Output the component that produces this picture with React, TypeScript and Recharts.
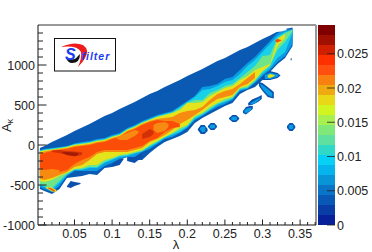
import { AreaChart, Area, BarChart, Bar, XAxis, YAxis, ReferenceLine } from 'recharts'

const lambda = [0.004, 0.01, 0.02, 0.03, 0.04, 0.05, 0.06, 0.07, 0.08, 0.09, 0.1, 0.11, 0.12, 0.13, 0.14, 0.15, 0.16, 0.17, 0.18, 0.19, 0.2, 0.21, 0.22, 0.23, 0.24, 0.25, 0.26, 0.27, 0.28, 0.29, 0.3, 0.31, 0.32, 0.33, 0.34]

// nested contour bands, upper and lower edge of each in A_k
const blueHigh = [-38, -13, 38, 81, 125, 175, 219, 263, 313, 363, 400, 450, 494, 538, 588, 638, 675, 725, 769, 813, 863, 906, 950, 1000, 1050, 1088, 1138, 1188, 1225, 1275, 1325, 1369, 1419, 1450, 1469]
const blueLow = [-550, -575, -613, -550, -413, -400, -388, -363, -375, -288, -275, -188, -150, -188, -188, -100, -25, 38, 75, 113, 163, 275, 338, 388, 438, 488, 525, 638, 688, 725, 813, 913, 1013, 1088, 1238]
const skyHigh = [-63, -50, -38, -25, -13, 19, 38, 50, 75, 88, 125, 150, 213, 250, 300, 338, 375, 400, 425, 488, 550, 613, 725, 738, 763, 825, 850, 938, 1025, 1100, 1200, 1300, 1400, 1438, 1450]
const skyLow = [-525, -550, -588, -513, -388, -325, -325, -325, -325, -263, -225, -175, -150, -150, -88, -50, 13, 75, 100, 150, 213, 313, 363, 425, 475, 513, 563, 675, 700, 775, 863, 938, 1038, 1113, 1263]
const cyanHigh = [-69, -56, -44, -31, -19, 13, 25, 38, 63, 75, 113, 138, 200, 238, 288, 325, 363, 388, 413, 475, 538, 600, 688, 700, 738, 788, 813, 888, 988, 1063, 1163, 1263, 1363, 1413, 1444]
const cyanLow = [-500, -525, -563, -475, -375, -313, -313, -288, -288, -225, -188, -150, -138, -106, -81, -25, 25, 88, 125, 163, 225, 325, 375, 438, 500, 538, 575, 688, 713, 788, 888, 963, 1088, 1163, 1400]
const greenHigh = [-75, -63, -50, -38, -23, 6, 19, 31, 56, 69, 106, 131, 194, 231, 281, 319, 356, 381, 406, 456, 531, 563, 563, 650, 688, 738, 763, 838, 913, 988, 1113, 1125, 1338, 1400, 1440]
const greenLow = [-488, -513, -538, -450, -363, -306, -300, -275, -275, -213, -175, -138, -125, -100, -75, -13, 38, 100, 138, 188, 238, 344, 388, 450, 513, 550, 588, 700, 719, 800, 913, 988, 1188, 1288, 1425]
const yellowHigh = [-81, -69, -56, -44, -25, 0, 13, 25, 50, 63, 100, 125, 188, 225, 275, 313, 350, 375, 400, 438, 525, 525, 538, 613, 663, 713, 738, 813, 863, 938, 975, 1013, 1325, 1388]
const yellowLow = [-450, -463, -438, -388, -350, -300, -288, -250, -250, -188, -163, -125, -113, -88, -63, 0, 50, 100, 150, 213, 250, 363, 400, 475, 525, 575, 600, 713, 738, 813, 925, 1000, 1238, 1338]
const orangeHigh = [-94, -81, -63, -50, -38, -13, 0, 13, 38, 50, 88, 113, 175, 213, 263, 300, 325, 338, 350, 400, 425, 438, 475, 563, 638, 675, 700, 763, 838, 913]
const orangeLow = [-425, -438, -413, -375, -338, -275, -250, -188, -113, -88, -88, -88, -88, -63, -38, 38, 75, 125, 188, 263, 313, 375, 438, 513, 575, 600, 625, 725, 763, 838]
const redHigh = [-125, -100, -75, -63, -50, -25, -13, 0, 25, 38, 75, 100, 163, 200, 250, 288, 313, 300, 300, 263]
const redLow = [-363, -375, -388, -338, -313, -238, -188, -150, -88, -63, -63, -63, -63, -38, -13, 50, 88, 163, 213, 225]

// lighter and darker patches inside the body
const patchALambda = [0.105, 0.11, 0.12, 0.13, 0.135]
const patchAHigh = [88, 113, 150, 188, 175]
const patchALow = [88, 63, 63, 113, 150]
const patchBLambda = [0.155, 0.16, 0.17, 0.175]
const patchBHigh = [250, 275, 288, 263]
const patchBLow = [188, 150, 175, 225]
const patchCLambda = [0.004, 0.01, 0.02, 0.03]
const patchCHigh = [-288, -313, -300, -313]
const patchCLow = [-375, -388, -388, -350]
const darkALambda = [0.02, 0.03, 0.04, 0.05, 0.06]
const darkAHigh = [-69, -63, -75, -81, -88]
const darkALow = [-88, -100, -125, -144, -125]
const darkCoreLambda = [0.034, 0.04, 0.05, 0.055]
const darkCoreHigh = [-88, -88, -94, -100]
const darkCoreLow = [-100, -125, -138, -125]
const darkBLambda = [0.14, 0.15, 0.155]
const darkBHigh = [138, 200, 175]
const darkBLow = [75, 100, 138]
const streakLambda = [0.012, 0.02, 0.026]
const streakHigh = [-525, -531, -563]
const streakLow = [-538, -581, -588]
const streakCoreLambda = [0.015, 0.02, 0.024]
const streakCoreHigh = [-531, -544, -569]
const streakCoreLow = [-544, -569, -581]
const tipLambda = [0.317, 0.32, 0.325]
const tipHigh = [1313, 1325, 1313]
const tipLow = [1294, 1281, 1306]
const tipWhiteLambda = [0.318, 0.325, 0.332]
const tipWhiteHigh = [1431, 1450, 1456]
const tipWhiteLow = [1413, 1419, 1438]

// detached islands below the band
const islandsOuter = [
  [[0.04, 0.045, 0.05, 0.058], [-513, -450, -463, -475], [-525, -538, -513, -488]],
  [[0.1, 0.11, 0.1155], [-200, -175, -175], [-275, -250, -175]],
  [[0.12, 0.13, 0.14], [-150, -125, -100], [-200, -225, -150]],
  [[0.214, 0.218, 0.223, 0.227], [200, 250, 250, 200], [188, 138, 138, 175]],
  [[0.2275, 0.231, 0.236, 0.2395], [238, 275, 275, 238], [225, 188, 188, 225]],
  [[0.2555, 0.26, 0.265, 0.269], [338, 375, 375, 338], [325, 288, 288, 325]],
  [[0.274, 0.278, 0.283, 0.287], [425, 475, 488, 488], [400, 381, 419, 450]],
  [[0.281, 0.286, 0.294, 0.299], [525, 569, 600, 625], [494, 500, 538, 575]],
  [[0.2953, 0.3, 0.307, 0.315], [788, 775, 725, 663], [738, 675, 600, 581]],
  [[0.3, 0.31, 0.32, 0.324], [888, 925, 900, 869], [813, 813, 838, 869]],
  [[0.3326, 0.336, 0.34, 0.3435], [238, 275, 275, 238], [213, 175, 175, 213]],
  [[0.3375, 0.3388], [1085, 1085], [1060, 1060]],
]
const islandsInner = [
  [[0.217, 0.22, 0.224], [213, 231, 225], [194, 156, 169]],
  [[0.23, 0.233, 0.237], [250, 256, 250], [213, 206, 213]],
  [[0.2585, 0.262, 0.266], [350, 356, 350], [313, 306, 313]],
  [[0.276, 0.279, 0.285], [431, 456, 469], [406, 400, 438]],
  [[0.284, 0.29, 0.297], [525, 556, 594], [506, 519, 575]],
  [[0.297, 0.3, 0.307, 0.313], [763, 750, 700, 650], [750, 700, 625, 600]],
  [[0.303, 0.31, 0.321], [875, 906, 881], [825, 825, 856]],
  [[0.335, 0.338, 0.341], [244, 256, 244], [206, 194, 206]],
]
const islandCoreLambda = [0.307, 0.31, 0.316]
const islandCoreHigh = [869, 888, 875]
const islandCoreLow = [844, 838, 863]

const xMajor = [0.05, 0.1, 0.15, 0.2, 0.25, 0.3, 0.35]
const xTicks = [0.01, 0.02, 0.03, 0.04, 0.05, 0.06, 0.07, 0.08, 0.09, 0.1, 0.11, 0.12, 0.13, 0.14, 0.15, 0.16, 0.17, 0.18, 0.19, 0.2, 0.21, 0.22, 0.23, 0.24, 0.25, 0.26, 0.27, 0.28, 0.29, 0.3, 0.31, 0.32, 0.33, 0.34, 0.35, 0.36, 0.37]
const yMajor = [-1000, -500, 0, 500, 1000]
const yTicks = [-1000, -900, -800, -700, -600, -500, -400, -300, -200, -100, 0, 100, 200, 300, 400, 500, 600, 700, 800, 900, 1000, 1100, 1200, 1300, 1400]

const scaleTicks = [0, 0.005, 0.01, 0.015, 0.02, 0.025]
const scaleMax = 0.0292
const scaleColors = ['#08209a', '#0a3ca6', '#0a58b6', '#0a74c6', '#0a94d8', '#05b4ec', '#08d0f4', '#30d8c8', '#60e0a0', '#80e878', '#a8f050', '#d0f520', '#e8d818', '#eeaa10', '#f88010', '#ff5010', '#ff3000', '#d02000', '#a01000', '#800000']
const scaleStep = [0.00146, 0.00146, 0.00146, 0.00146, 0.00146, 0.00146, 0.00146, 0.00146, 0.00146, 0.00146, 0.00146, 0.00146, 0.00146, 0.00146, 0.00146, 0.00146, 0.00146, 0.00146, 0.00146, 0.00146]

const scaleRow: Record<string, number | string> = { name: 'z' }
scaleStep.forEach((v, i) => { scaleRow[`s${i}`] = v })

const BLUE = '#0a5ab4'
const SKY = '#0a9ce2'
const CYAN = '#18d0e8'
const GREEN = '#70e488'
const YELLOW = '#e4e41c'
const ORANGE = '#f78a10'
const RED = '#fb4c08'
const DARK = '#d23006'
const DARKER = '#a01c08'

const band = (lam: number[], high: number[], low: number[], fill: string) => ({
  fill,
  rows: high.map((h, i) => ({ lambda: lam[i], range: [low[i], h] })),
})

const bands = [
  band(lambda, blueHigh, blueLow, BLUE),
  ...islandsOuter.map(([l, h, lo]) => band(l, h, lo, '#0a50ac')),
  ...islandsInner.map(([l, h, lo]) => band(l, h, lo, SKY)),
  band(islandCoreLambda, islandCoreHigh, islandCoreLow, YELLOW),
  band(lambda, skyHigh, skyLow, SKY),
  band(lambda, cyanHigh, cyanLow, CYAN),
  band(lambda, greenHigh, greenLow, GREEN),
  band(lambda, yellowHigh, yellowLow, YELLOW),
  band(streakLambda, streakHigh, streakLow, YELLOW),
  band(streakCoreLambda, streakCoreHigh, streakCoreLow, RED),
  band(lambda, orangeHigh, orangeLow, ORANGE),
  band(tipLambda, tipHigh, tipLow, RED),
  band(tipWhiteLambda, tipWhiteHigh, tipWhiteLow, '#ffffff'),
  band(lambda, redHigh, redLow, RED),
  band(patchALambda, patchAHigh, patchALow, ORANGE),
  band(patchBLambda, patchBHigh, patchBLow, ORANGE),
  band(patchCLambda, patchCHigh, patchCLow, ORANGE),
  band(darkALambda, darkAHigh, darkALow, DARK),
  band(darkCoreLambda, darkCoreHigh, darkCoreLow, DARKER),
  band(darkBLambda, darkBHigh, darkBLow, DARK),
]

const font = '"Liberation Sans", Arial, sans-serif'

function XTick({ x, y, payload }: any) {
  const major = xMajor.includes(payload.value)
  return (
    <g>
      <line x1={x} x2={x} y1={y} y2={y - (major ? 5.5 : 3)} stroke="#222" />
      {major && (
        <text x={x} y={y + 13} textAnchor="middle" fontSize={12.5} fontFamily={font} fill="#222">
          {payload.value}
        </text>
      )}
    </g>
  )
}

function YTick({ x, y, payload }: any) {
  const major = yMajor.includes(payload.value)
  return (
    <g>
      <line x1={x} x2={x + (major ? 8.5 : 5)} y1={y} y2={y} stroke="#222" />
      {major && (
        <text x={x - 3} y={y + 4.5} textAnchor="end" fontSize={12.5} fontFamily={font} fill="#222">
          {payload.value}
        </text>
      )}
    </g>
  )
}

function ScaleTick({ x, y, payload }: any) {
  return (
    <g>
      <line x1={x - 8} x2={x} y1={y} y2={y} stroke="#222" strokeOpacity={0.8} />
      <text x={x + 2} y={y + 4.5} fontSize={12.5} fontFamily={font} fill="#222">
        {payload.value}
      </text>
    </g>
  )
}

function Logo() {
  return (
    <g>
      <rect x={54.5} y={38.5} width={61} height={32.5} fill="#fff" stroke="#111" />
      <path d="M61 47 Q74 41 83 45 Q90 50 85 58 Q83 62 78 67 Q82 58 81 52 Q77 45 61 47Z" fill="#ee1c1c" />
      <path d="M66 58 Q74 62 78 56 L80 54 Q80 63 72 63 Q68 63 66 58Z" fill="#111" />
      <text x={65} y={60} fontSize={16} fontWeight="bold" fontStyle="italic" fontFamily={font} fill="#1c3cf0">S</text>
      <text x={81.5} y={60} fontSize={10.5} fontWeight="bold" fontStyle="italic" fontFamily={font} fill="#1c3cf0" letterSpacing={1}>filter</text>
    </g>
  )
}

export default function App() {
  return (
    <div style={{ position: 'absolute', left: 0, top: 0, width: 372, height: 252, background: '#fff' }}>
      <div style={{ position: 'absolute', left: 0, top: 0 }}>
        <AreaChart width={318} height={252} margin={{ top: 25, right: 2, bottom: 0, left: 0 }}>
          <XAxis
            dataKey="lambda"
            type="number"
            domain={[0.00146, 0.37114]}
            ticks={xTicks}
            interval={0}
            tick={<XTick />}
            tickLine={false}
            tickSize={0}
            tickMargin={0}
            height={27}
            axisLine={{ stroke: '#111' }}
            allowDataOverflow
          />
          <YAxis
            type="number"
            domain={[-1000, 1500]}
            ticks={yTicks}
            interval={0}
            tick={<YTick />}
            tickLine={false}
            tickSize={0}
            tickMargin={0}
            width={38}
            axisLine={{ stroke: '#111' }}
            allowDataOverflow
          />
          {bands.map((b, i) => (
            <Area
              key={i}
              data={b.rows}
              dataKey="range"
              type="linear"
              stroke="none"
              fill={b.fill}
              fillOpacity={1}
              dot={false}
              activeDot={false}
              isAnimationActive={false}
            />
          ))}
          <ReferenceLine y={1500} stroke="#999" strokeWidth={2} />
          <ReferenceLine x={0.37114} stroke="#999" strokeWidth={2} />
          <Logo />
          <text x={176} y={249} textAnchor="middle" fontSize={13} fontFamily={font} fill="#222">λ</text>
          <text transform="rotate(-90 11 132)" x={11} y={132} fontSize={13} fontFamily={font} fill="#222">
            A<tspan fontSize={8.5} dy={2}>κ</tspan>
          </text>
        </AreaChart>
      </div>
      <div style={{ position: 'absolute', left: 318, top: 0 }}>
        <BarChart width={54} height={252} data={[scaleRow]} margin={{ top: 25, right: 0, bottom: 27, left: 0 }} barCategoryGap={0}>
          <XAxis dataKey="name" hide />
          <YAxis
            orientation="right"
            type="number"
            domain={[0, scaleMax]}
            ticks={scaleTicks}
            interval={0}
            tick={<ScaleTick />}
            tickLine={false}
            tickSize={0}
            tickMargin={0}
            width={37}
            axisLine={false}
            allowDataOverflow
          />
          {scaleColors.map((c, i) => (
            <Bar key={c} dataKey={`s${i}`} stackId="z" fill={c} isAnimationActive={false} />
          ))}
        </BarChart>
      </div>
    </div>
  )
}
